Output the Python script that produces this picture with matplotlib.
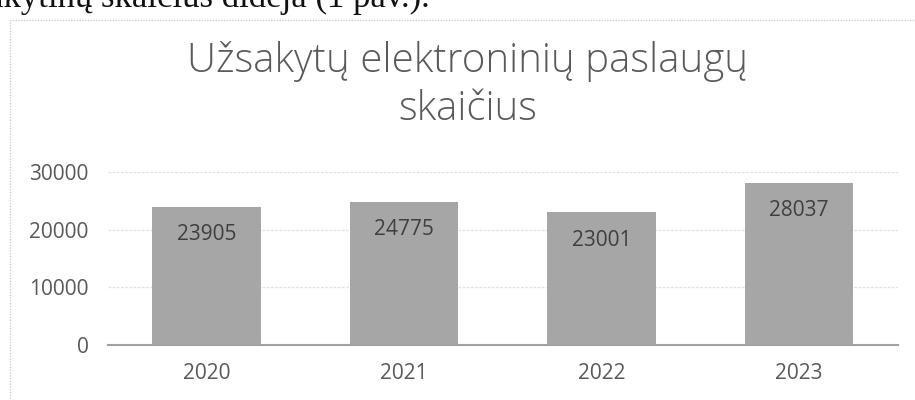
import matplotlib.pyplot as plt
from matplotlib.patches import Rectangle

# duomenys
years = ['2020', '2021', '2022', '2023']
counts = [23905, 24775, 23001, 28037]
y_ticks = [0, 10000, 20000, 30000]

plt.rcParams['font.family'] = ['Open Sans', 'DejaVu Sans']

fig = plt.figure(figsize=(9.15, 4), dpi=100)
fig.patch.set_facecolor('white')

# nukirpta dokumento eilute virsuje
fig.text(-0.013, 0.982, 'akytinų skaičius didėja (1 pav.).', fontsize=25,
         family=['Liberation Serif', 'DejaVu Serif'], color='#111111',
         ha='left', va='baseline')

# diagramos remelis
fig.patches.append(Rectangle((0.011, -0.01), 0.99, 0.96, transform=fig.transFigure,
                             fill=False, edgecolor='#cfcfcf', linewidth=1,
                             linestyle=(0, (1, 1))))

fig.text(0.511, 0.786, 'Užsakytų elektroninių paslaugų\nskaičius', fontsize=29,
         fontweight='light', color='#5a5a5a', ha='center', va='center',
         linespacing=1.2)

ax = fig.add_axes([0.118, 0.1375, 0.863, 0.4325])
x = range(len(years))
bars = ax.bar(x, counts, width=0.55, color='#a6a6a6', zorder=3)
for b, v in zip(bars, counts):
    ax.text(b.get_x() + b.get_width() / 2, v - 4800, str(v), ha='center',
            va='center', fontsize=15, color='#3f3f3f', zorder=4)

ax.set_xlim(-0.5, len(years) - 0.5)
ax.set_ylim(0, 30000)
ax.set_yticks(y_ticks)
ax.set_xticks(list(x))
ax.set_xticklabels(years)
ax.tick_params(axis='both', length=0, labelsize=15, colors='#595959')
ax.tick_params(axis='y', pad=14)
ax.tick_params(axis='x', pad=13)
ax.grid(axis='y', color='#e3e3e3', linewidth=1, linestyle=(0, (2, 1)), zorder=0)
for s in ['top', 'right', 'left']:
    ax.spines[s].set_visible(False)
ax.spines['bottom'].set_color('#a0a0a0')
ax.spines['bottom'].set_linewidth(1.5)

fig.savefig('out.png', dpi=100)
